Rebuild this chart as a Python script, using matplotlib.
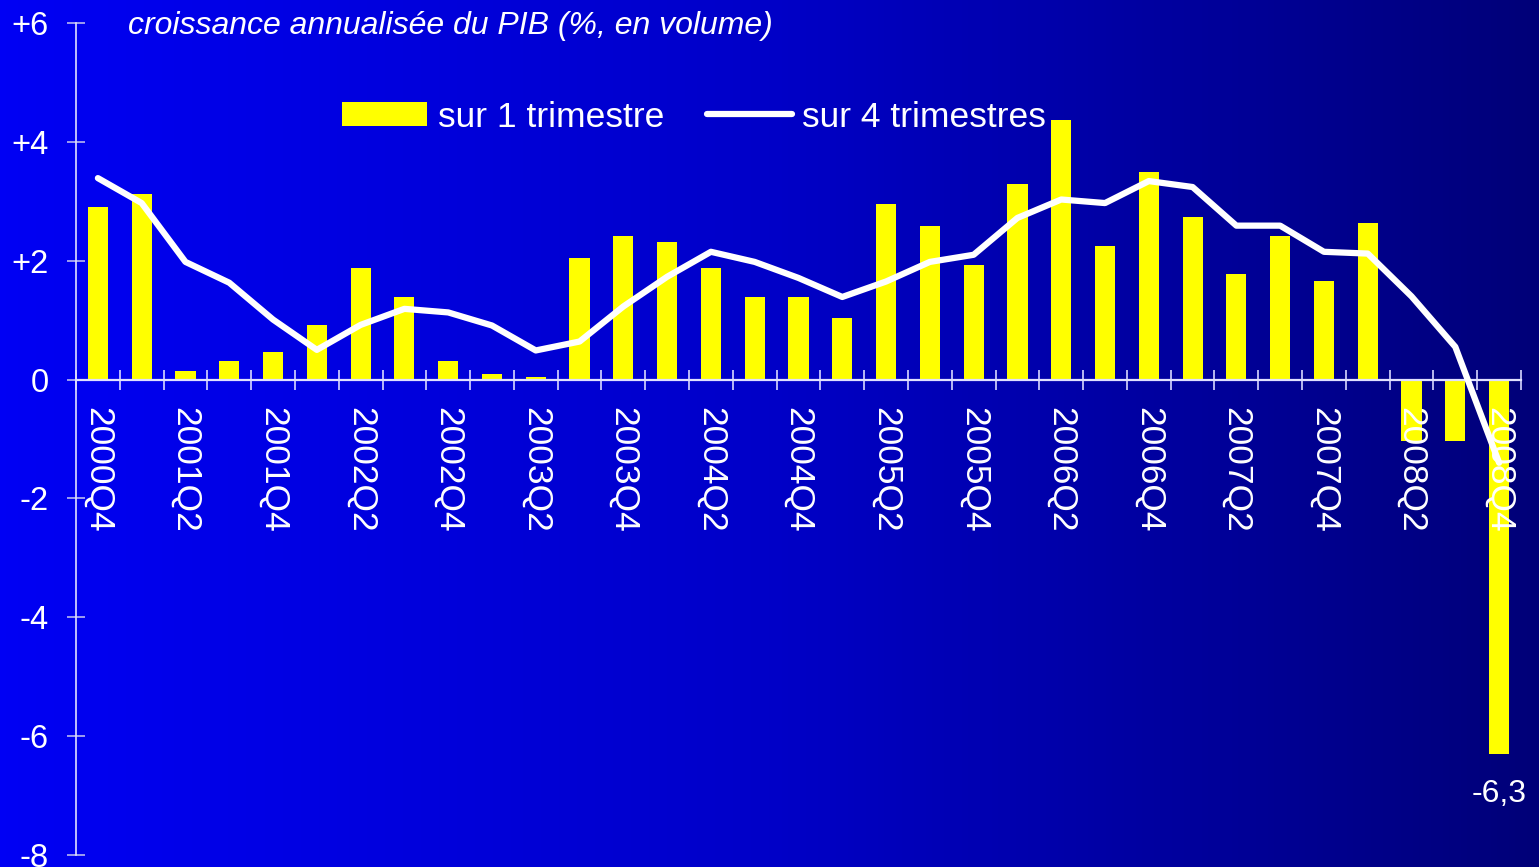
import matplotlib.pyplot as plt
import numpy as np
from matplotlib.colors import LinearSegmentedColormap

# Données
quarters = ['2000Q4', '2001Q1', '2001Q2', '2001Q3', '2001Q4', '2002Q1', '2002Q2',
            '2002Q3', '2002Q4', '2003Q1', '2003Q2', '2003Q3', '2003Q4', '2004Q1',
            '2004Q2', '2004Q3', '2004Q4', '2005Q1', '2005Q2', '2005Q3', '2005Q4',
            '2006Q1', '2006Q2', '2006Q3', '2006Q4', '2007Q1', '2007Q2', '2007Q3',
            '2007Q4', '2008Q1', '2008Q2', '2008Q3', '2008Q4']
growth_1q = [2.91, 3.13, 0.15, 0.32, 0.47, 0.91, 1.88, 1.39, 0.32, 0.10, 0.05,
             2.05, 2.42, 2.32, 1.88, 1.39, 1.39, 1.03, 2.96, 2.59, 1.93, 3.29,
             4.37, 2.25, 3.50, 2.74, 1.78, 2.42, 1.66, 2.64, -1.04, -1.04, -6.3]
growth_4q = [3.39, 2.97, 1.98, 1.63, 1.01, 0.50, 0.92, 1.19, 1.13, 0.91, 0.49,
             0.64, 1.23, 1.73, 2.15, 1.98, 1.71, 1.39, 1.65, 1.98, 2.10, 2.72,
             3.03, 2.97, 3.34, 3.24, 2.59, 2.59, 2.15, 2.12, 1.40, 0.55, -1.40]
yticks = [6, 4, 2, 0, -2, -4, -6, -8]
ytick_labels = ['+6', '+4', '+2', '0', '-2', '-4', '-6', '-8']

plt.rcParams['font.family'] = ['Liberation Sans', 'DejaVu Sans']

W, H = 1539, 867
fig = plt.figure(figsize=(W / 100, H / 100), dpi=100)

# fond dégradé bleu
bg = fig.add_axes([0, 0, 1, 1])
bg.axis('off')
cmap = LinearSegmentedColormap.from_list('fond', ['#0000F4', '#0000C8', '#000078'])
grad = np.linspace(0, 1, 256).reshape(1, -1)
bg.imshow(grad, cmap=cmap, aspect='auto', extent=[0, 1, 0, 1])

ax = fig.add_axes([76 / W, 12 / H, 1445 / W, 832 / H])
ax.patch.set_alpha(0)

x = np.arange(len(quarters))
bars = ax.bar(x, growth_1q, width=0.46, color='#FFFF00', zorder=1)
line, = ax.plot(x, growth_4q, color='white', lw=4.5, solid_capstyle='round', zorder=3)

ax.set_xlim(-0.5, len(quarters) - 0.5)
ax.set_ylim(-8, 6)

for s in ['top', 'right']:
    ax.spines[s].set_visible(False)
ax.spines['bottom'].set_position(('data', 0))
ax.spines['bottom'].set_color('#e0e0ff')
ax.spines['bottom'].set_linewidth(1.6)
ax.spines['left'].set_color('#e0e0ff')
ax.spines['left'].set_linewidth(1.2)

# graduations x : traits aux limites, étiquettes au centre un trimestre sur deux
ax.set_xticks(np.arange(len(quarters) + 1) - 0.5)
ax.set_xticklabels([])
ax.set_xticks(x[::2], labels=quarters[::2], minor=True)
ax.tick_params(axis='x', which='major', direction='inout', length=13.7, width=1.2,
               color='#d8d8ff')
ax.tick_params(axis='x', which='minor', length=0, pad=19.5, labelsize=25.5,
               labelcolor='white', labelrotation=270)
for lab in ax.get_xticklabels(minor=True):
    lab.set_va('top')
    lab.set_ha('center')

ax.set_yticks(yticks, labels=ytick_labels)
ax.tick_params(axis='y', direction='inout', length=13, width=1.2, color='#b8b8f0',
               pad=13, labelsize=23.5, labelcolor='white')

# étiquette du dernier point
ax.annotate(f'{growth_1q[-1]:.1f}'.replace('.', ','), xy=(x[-1], growth_1q[-1]),
            xytext=(0, -28.5), textcoords='offset points', ha='center', va='center',
            fontsize=23, color='white')

fig.text(128 / W, 1 - 26 / H, 'croissance annualisée du PIB (%, en volume)',
         fontsize=23, style='italic', color='white', va='center', ha='left')

ax.legend([bars, line], ['sur 1 trimestre', 'sur 4 trimestres'],
          ncol=2, frameon=False, loc='center left',
          bbox_to_anchor=(342 / W, 1 - 117 / H), bbox_transform=fig.transFigure,
          prop={'size': 25.5}, labelcolor='white', handlelength=2.4, handleheight=0.65,
          handletextpad=0.3, columnspacing=1.2, borderpad=0, borderaxespad=0)

fig.savefig('out.png', dpi=100)
